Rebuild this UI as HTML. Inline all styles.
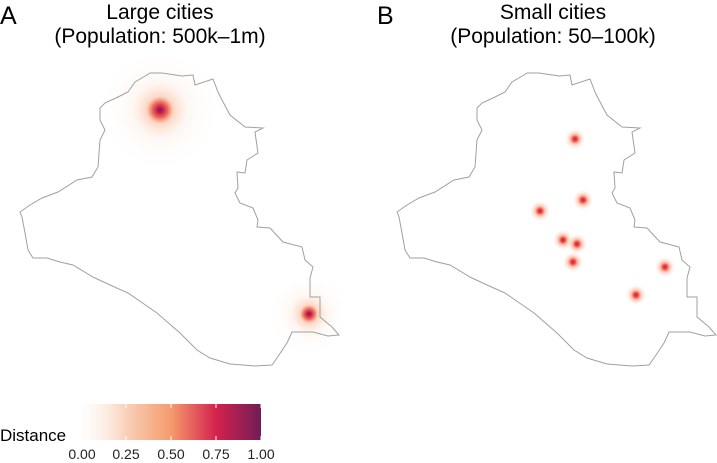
<!DOCTYPE html>
<html><head><style>
body{margin:0;background:#fff;}
svg{display:block;font-family:"Liberation Sans",Helvetica,sans-serif;}
</style></head><body>
<svg width="717" height="463" viewBox="0 0 717 463" xmlns="http://www.w3.org/2000/svg">
<defs>
<radialGradient id="big">
<stop offset="0" stop-color="#6b1f5a"/>
<stop offset="0.05" stop-color="#c81e4f"/>
<stop offset="0.13" stop-color="#f0705a"/>
<stop offset="0.22" stop-color="#f8b898" stop-opacity="0.55"/>
<stop offset="0.45" stop-color="#fbd9c4" stop-opacity="0.2"/>
<stop offset="1" stop-color="#fff" stop-opacity="0"/>
</radialGradient>
<radialGradient id="sm">
<stop offset="0" stop-color="#c8203f"/>
<stop offset="0.2" stop-color="#ee4a45"/>
<stop offset="0.45" stop-color="#f8a080" stop-opacity="0.6"/>
<stop offset="1" stop-color="#fff" stop-opacity="0"/>
</radialGradient>
<linearGradient id="cb" x1="0" x2="1">
<stop offset="0" stop-color="#fdf4ed" stop-opacity="0.2"/>
<stop offset="0.25" stop-color="#f8d0b8"/>
<stop offset="0.5" stop-color="#f59a6c"/>
<stop offset="0.75" stop-color="#d4224d"/>
<stop offset="1" stop-color="#6f1e55"/>
</linearGradient>
<polygon id="iraq" fill="none" stroke="#a0a0a0" stroke-width="1" points="147,75 150,73 162,73 182,76 193,75 195,85 213,79 218,92 222,100 230,115 245,127 263,128 255,132 258,153 247,160 245,173 237,172 238,188 235,193 240,203 253,208 258,220 257,227 270,228 283,242 302,247 305,260 313,267 310,278 310,297 320,297 320,317 332,327 339,335 328,336 313,332 292,332 287,343 277,358 272,365 255,366 230,364 210,358 197,350 180,333 157,313 128,293 110,285 93,277 73,265 60,262 47,258 33,258 28,250 25,233 22,217 20,212 30,205 42,198 58,192 77,180 92,177 98,167 100,140 105,130 100,120 100,108 105,103 118,97 128,92 135,82"/>
</defs>
<circle cx="160" cy="110" r="62" fill="url(#big)"/>
<circle cx="309" cy="314" r="42" fill="url(#big)"/>
<use href="#iraq"/>
<g>
<circle cx="575" cy="139" r="11" fill="url(#sm)"/>
<circle cx="540" cy="211" r="11" fill="url(#sm)"/>
<circle cx="583" cy="200" r="11" fill="url(#sm)"/>
<circle cx="563" cy="240" r="11" fill="url(#sm)"/>
<circle cx="577" cy="244" r="11" fill="url(#sm)"/>
<circle cx="573" cy="262" r="11" fill="url(#sm)"/>
<circle cx="665" cy="267" r="11" fill="url(#sm)"/>
<circle cx="636" cy="295" r="11" fill="url(#sm)"/>
</g>
<use href="#iraq" x="377"/>
<text x="0" y="24" font-size="25">A</text>
<text x="160" y="19" font-size="21" text-anchor="middle">Large cities</text>
<text x="160" y="43" font-size="21" text-anchor="middle">(Population: 500k–1m)</text>
<text x="377" y="24" font-size="25">B</text>
<text x="553" y="19" font-size="21" text-anchor="middle">Small cities</text>
<text x="553" y="43" font-size="21" text-anchor="middle">(Population: 50–100k)</text>
<rect x="82" y="404" width="179" height="36" fill="url(#cb)"/>
<g stroke="#fff" stroke-width="1">
<line x1="126" y1="404" x2="126" y2="408"/><line x1="126" y1="436" x2="126" y2="440"/>
<line x1="171" y1="404" x2="171" y2="408"/><line x1="171" y1="436" x2="171" y2="440"/>
<line x1="216" y1="404" x2="216" y2="408"/><line x1="216" y1="436" x2="216" y2="440"/>
<line x1="261" y1="404" x2="261" y2="408"/><line x1="261" y1="436" x2="261" y2="440"/>
</g>
<text x="0" y="441" font-size="17">Distance</text>
<g font-size="14" fill="#222" text-anchor="middle">
<text x="82" y="459">0.00</text><text x="126" y="459">0.25</text><text x="171" y="459">0.50</text><text x="216" y="459">0.75</text><text x="261" y="459">1.00</text>
</g>
</svg>
</body></html>
